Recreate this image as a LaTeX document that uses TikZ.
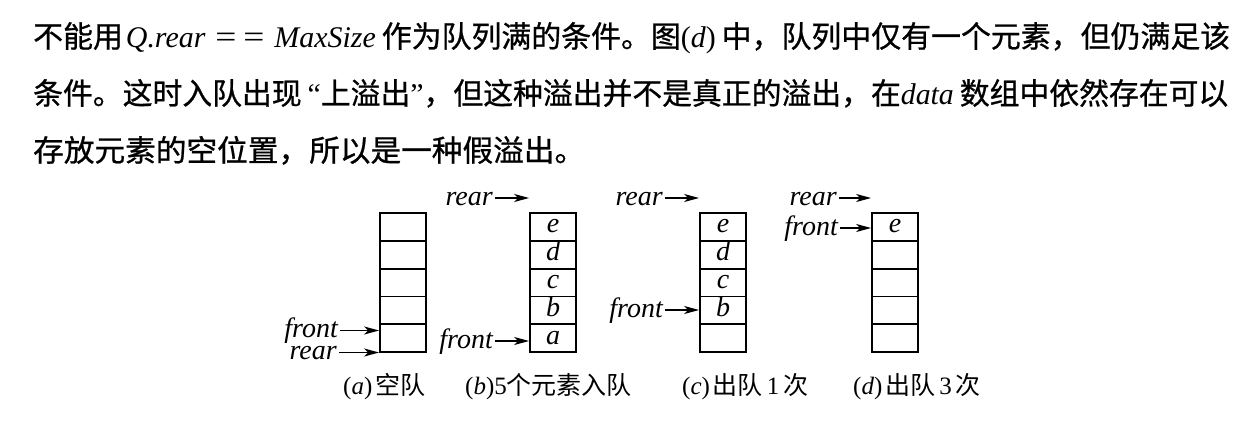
\documentclass[tikz,border=0pt]{standalone}
\usepackage{fontspec}
\usepackage{graphicx}
\setmainfont{Liberation Serif}
\newfontfamily\cjk[FakeBold=0.8]{Noto Sans CJK SC}
\newfontfamily\cjkcap{Noto Sans CJK SC}
\usetikzlibrary{arrows.meta}
\newcommand\lat[1]{{\rmfamily\itshape #1}}
\newcommand\eqsign{\scalebox{1.25}[1.05]{\rmfamily\upshape =}}
\tikzset{
  cell/.style={draw, line width=1.8pt, minimum width=46pt, minimum height=27.8pt,
    inner sep=0pt, text height=12pt, text depth=0pt,
    font=\fontsize{28}{28}\selectfont\itshape},
  ptr/.style={font=\fontsize{28}{28}\selectfont\itshape, inner sep=0pt,
    text height=14pt, text depth=0pt, anchor=east},
  arr/.style={line width=1.8pt, shorten <=2pt, -{Stealth[length=15pt,width=8pt,inset=4pt]}},
  para/.style={anchor=base west, inner sep=0pt, font=\fontsize{30}{30}\selectfont},
  captext/.style={anchor=base west, inner sep=0pt, font=\fontsize{25}{25}\selectfont},
}
\newcommand\queuecol[7]{%
  \node[cell] (q#1-1) at (#2+23, 226.9) {#3};
  \node[cell] (q#1-2) at (#2+23, 254.7) {#4};
  \node[cell] (q#1-3) at (#2+23, 282.5) {#5};
  \node[cell] (q#1-4) at (#2+23, 310.3) {#6};
  \node[cell] (q#1-5) at (#2+23, 338.1) {#7};
}
\begin{document}
\begin{tikzpicture}[x=1pt,y=-1pt]
\useasboundingbox (0,0) rectangle (1254,433);

% paragraph
\node[para] (l1) at (33,47.4) {\resizebox{1197pt}{\height}{%
  {\cjk 不能用}\hspace{3pt}\lat{Q.rear}\hspace{10pt}\eqsign\hspace{7pt}\eqsign\hspace{10pt}\lat{MaxSize}\hspace{6pt}{\cjk 作为队列满的条件。图}(\lat{d})\hspace{6pt}{\cjk 中，队列中仅有一个元素，但仍满足该}}};
\node[para] (l2) at (33,104.4) {\resizebox{1195pt}{\height}{%
  {\cjk 条件。这时入队出现}\hspace{6pt}“{\cjk 上溢出}”{\cjk ，但这种溢出并不是真正的溢出，在}\lat{data}\hspace{6pt}{\cjk 数组中依然存在可以}}};
\node[para] (l3) at (33,161.4) {\resizebox{552pt}{\height}{{\cjk 存放元素的空位置，所以是一种假溢出。}}};

% queues
\queuecol{a}{380}{}{}{}{}{}
\queuecol{b}{530}{e}{d}{c}{b}{a}
\queuecol{c}{700}{e}{d}{c}{b}{}
\queuecol{d}{872}{e}{}{}{}{}

% pointers (a)
\node[ptr] (fa) at (338,330.5) {front};
\node[ptr] (ra) at (337,352.5) {rear};
\draw[arr] (fa.east) -- (fa.east -| qa-5.west);
\draw[arr] (ra.east) -- (ra.east -| qa-5.west);
% (b)
\node[ptr] (rb) at (493,198) {rear};
\node[ptr] (fb) at (493,341) {front};
\draw[arr] (rb.east) -- (rb.east -| qb-1.west);
\draw[arr] (fb.east) -- (fb.east -| qb-5.west);
% (c)
\node[ptr] (rc) at (663,198) {rear};
\node[ptr] (fc) at (663,310) {front};
\draw[arr] (rc.east) -- (rc.east -| qc-1.west);
\draw[arr] (fc.east) -- (fc.east -| qc-4.west);
% (d)
\node[ptr] (rd) at (837,198) {rear};
\node[ptr] (fd) at (838,228) {front};
\draw[arr] (rd.east) -- (rd.east -| qd-1.west);
\draw[arr] (fd.east) -- (fd.east -| qd-1.west);

% captions
\node[captext] (ca) at (343,394.5) {(\lat{a})\hspace{3pt}{\cjkcap 空队}};
\node[captext] (cb) at (465,394.5) {(\lat{b})5{\cjkcap 个元素入队}};
\node[captext] (cc) at (682,394.5) {(\lat{c})\hspace{3pt}{\cjkcap 出队}\hspace{4pt}1\hspace{4pt}{\cjkcap 次}};
\node[captext] (cd) at (853,394.5) {(\lat{d})\hspace{3pt}{\cjkcap 出队}\hspace{4pt}3\hspace{4pt}{\cjkcap 次}};
\end{tikzpicture}
\end{document}
